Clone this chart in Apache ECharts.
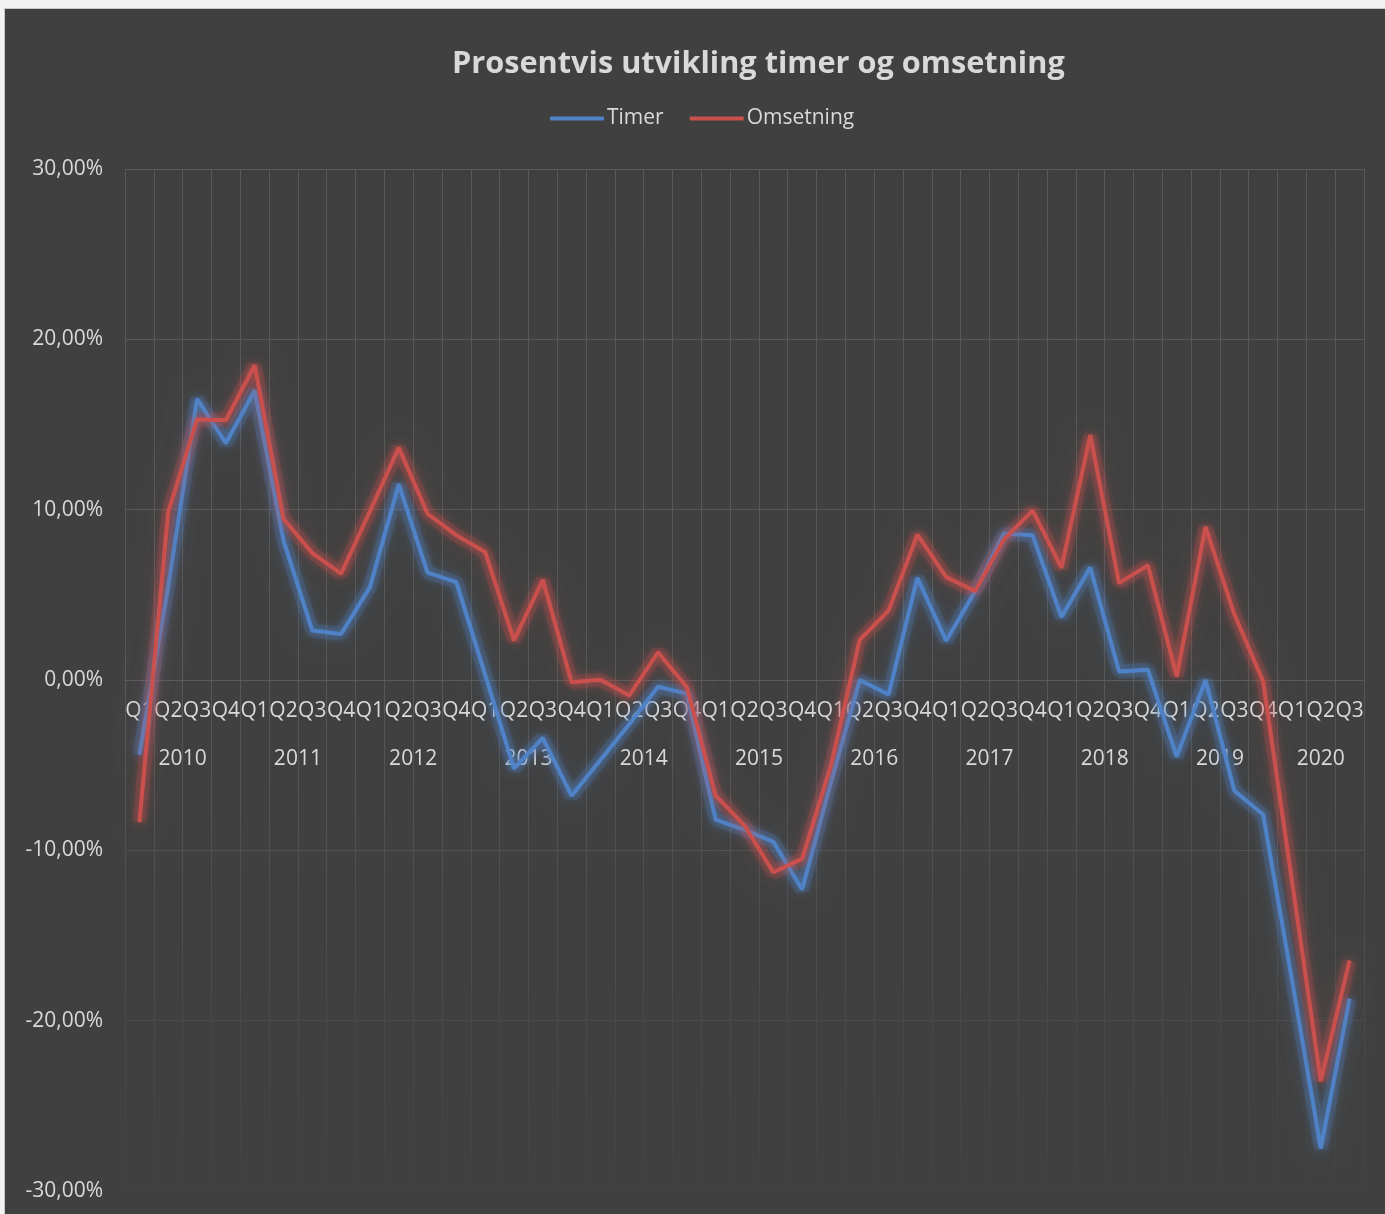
<!DOCTYPE html>
<html>
<head>
<meta charset="utf-8">
<title>Prosentvis utvikling timer og omsetning</title>
<script src="https://cdn.jsdelivr.net/npm/echarts@6/dist/echarts.min.js"></script>
<style>
  html, body { margin: 0; padding: 0; background: #f2f2f2; }
  #chart {
    position: absolute; left: 4px; top: 8px;
    width: 1381px; height: 1206px;
    border-left: 1px solid #c8c8c8; border-top: 1px solid #c8c8c8;
    background: #404040;
  }
</style>
</head>
<body>
<div id="chart"></div>
<script>
// kvartaler 2010 Q1 - 2020 Q3
var years = ['2010', '2011', '2012', '2013', '2014', '2015', '2016', '2017', '2018', '2019', '2020']
var quartersPerYear = [4, 4, 4, 4, 4, 4, 4, 4, 4, 4, 3]
var quarterNames = ['Q1', 'Q2', 'Q3', 'Q4']

// prosent endring
var timer = [
  -4.4, 5.5, 16.5, 13.9,
  17.0, 8.2, 2.9, 2.7,
  5.45, 11.5, 6.3, 5.75,
  0.3, -5.2, -3.4, -6.8,
  -4.7, -2.6, -0.4, -0.8,
  -8.2, -8.8, -9.5, -12.3,
  -6.0, 0.0, -0.85, 6.0,
  2.3, 5.2, 8.6, 8.5,
  3.7, 6.6, 0.5, 0.6,
  -4.5, 0.0, -6.5, -7.9,
  -17.6, -27.5, -18.7
]
var omsetning = [
  -8.35, 9.86, 15.3, 15.25,
  18.48, 9.47, 7.45, 6.24,
  9.9, 13.64, 9.76, 8.49,
  7.51, 2.32, 5.88, -0.13,
  0.01, -0.91, 1.63, -0.42,
  -6.79, -8.55, -11.29, -10.5,
  -5.0, 2.36, 4.08, 8.53,
  6.04, 5.22, 8.24, 9.96,
  6.59, 14.37, 5.69, 6.73,
  0.21, 8.99, 3.86, -0.08,
  -11.8, -23.55, -16.47
]
var yTicks = [-30, -20, -10, 0, 10, 20, 30]

// kategori-aksen (Q1..Q4 per år)
var categories = []
var yearCenters = []
var pos = 0
years.forEach(function (y, i) {
  for (var q = 0; q < quartersPerYear[i]; q++) categories.push(quarterNames[q])
  yearCenters.push(pos + quartersPerYear[i] / 2)
  pos += quartersPerYear[i]
})

var textColor = '#d9d9d9'
var fontFamily = '"Open Sans", "Noto Sans", sans-serif'
var blue = '#4f82c6'
var red = '#c9504c'
var gridTop = 160, gridBottom = 24, chartHeight = 1206
// x-aksene ligger på 0-linja, som er midt i plottet (-30..30)
var zeroOffset = -(chartHeight - gridTop - gridBottom) / 2

var gridColor = new echarts.graphic.LinearGradient(0, 0, 0, chartHeight, [
  { offset: 0, color: '#595959' },
  { offset: 0.56, color: '#575757' },
  { offset: 0.75, color: '#4e4e4e' },
  { offset: 0.9, color: '#464646' },
  { offset: 1, color: '#414141' }
], true)

// linje med "glow" som i Excel: en smal linje + en bred, svak linje under
function lineSeries(name, data, color) {
  return {
    name: name,
    type: 'line',
    data: data,
    symbol: 'none',
    z: 3,
    color: color,
    lineStyle: { width: 4, color: color, shadowColor: color, shadowBlur: 10 }
  }
}
function glowSeries(name, data, rgb) {
  return {
    name: name,
    type: 'line',
    data: data,
    symbol: 'none',
    silent: true,
    z: 2,
    lineStyle: {
      width: 14,
      color: 'rgba(' + rgb + ',0.17)',
      shadowColor: 'rgba(' + rgb + ',0.55)',
      shadowBlur: 20
    }
  }
}

var chart = echarts.init(document.getElementById('chart'))
chart.setOption({
  backgroundColor: '#404040',
  animation: false,
  title: {
    text: 'Prosentvis utvikling timer og omsetning',
    left: 442,
    top: 35,
    textStyle: {
      color: textColor,
      fontSize: 30.7,
      fontWeight: 'bold',
      fontFamily: fontFamily
    }
  },
  legend: {
    left: 540,
    top: 94,
    icon: 'roundRect',
    itemWidth: 54,
    itemHeight: 4,
    itemGap: 26,
    textStyle: { color: textColor, fontSize: 21, fontFamily: fontFamily, padding: [0, 0, 0, -2] },
    data: ['Timer', 'Omsetning']
  },
  grid: {
    left: 120,
    right: 22,
    top: gridTop,
    bottom: gridBottom,
    containLabel: false,
    outerBoundsMode: 'none'
  },
  xAxis: [{
    type: 'category',
    data: categories,
    boundaryGap: true,
    position: 'bottom',
    offset: zeroOffset,
    axisLine: { onZero: false, lineStyle: { color: '#5a5a5a', width: 1 } },
    axisTick: { show: false },
    axisLabel: {
      interval: 0,
      margin: 21,
      color: textColor,
      fontSize: 21,
      fontFamily: fontFamily
    },
    splitLine: { show: true, interval: 0, lineStyle: { color: gridColor, width: 1 } }
  }, {
    type: 'value',
    position: 'bottom',
    offset: zeroOffset,
    min: 0,
    max: categories.length,
    axisLine: { show: false, onZero: false },
    axisTick: { show: false },
    splitLine: { show: false },
    axisLabel: {
      customValues: yearCenters,
      margin: 69,
      color: textColor,
      fontSize: 21,
      fontFamily: fontFamily,
      formatter: function (v) {
        var i = yearCenters.indexOf(v)
        return i >= 0 ? years[i] : ''
      }
    }
  }],
  yAxis: {
    type: 'value',
    min: yTicks[0],
    max: yTicks[yTicks.length - 1],
    interval: 10,
    axisLine: { show: false, onZero: false },
    axisTick: { show: false },
    axisLabel: {
      margin: 22,
      color: textColor,
      fontSize: 21,
      fontFamily: fontFamily,
      formatter: function (v) { return v.toFixed(2).replace('.', ',') + '%' }
    },
    splitLine: { lineStyle: { color: gridColor, width: 1 } }
  },
  series: [
    lineSeries('Timer', timer, blue),
    lineSeries('Omsetning', omsetning, red),
    glowSeries('Timer', timer, '79,130,198'),
    glowSeries('Omsetning', omsetning, '201,80,76')
  ]
})
</script>
</body>
</html>
